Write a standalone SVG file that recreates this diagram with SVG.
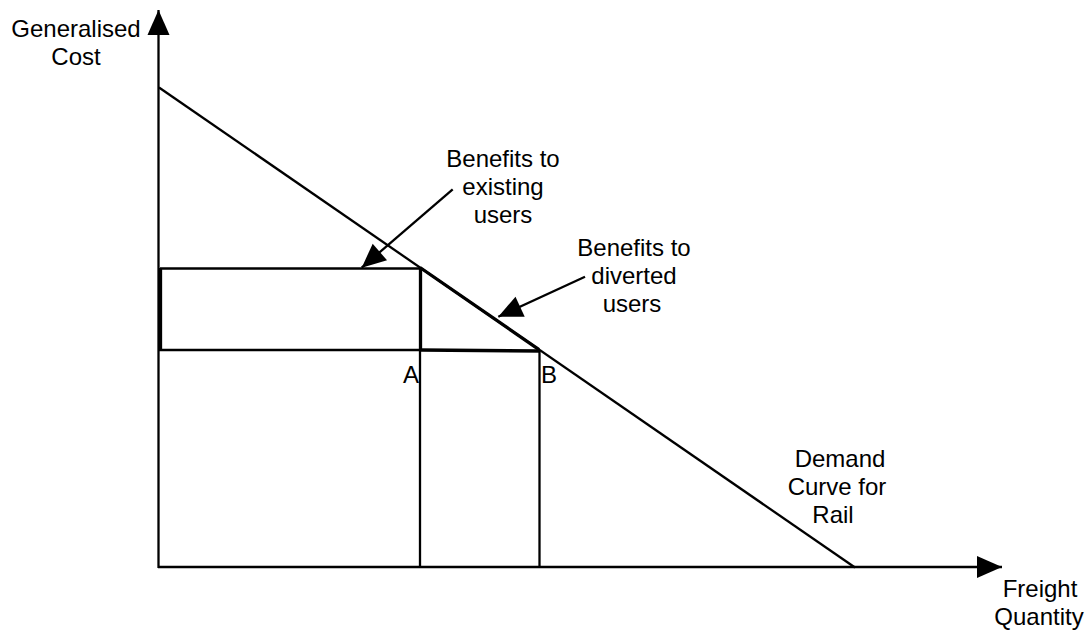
<svg xmlns="http://www.w3.org/2000/svg" width="1089" height="633" viewBox="0 0 1089 633">
  <style>
    .ln { stroke: #000; stroke-width: 2.3; fill: none; }
    .thick { stroke: #000; stroke-width: 3.3; fill: none; }
    .lbl { font-family: "Liberation Sans", Arial, sans-serif; font-size: 24px; fill: #000; text-anchor: middle; }
  </style>
  <defs>
    <marker id="axisHead" markerUnits="userSpaceOnUse" markerWidth="25" markerHeight="22" refX="25" refY="11" orient="auto" overflow="visible">
      <path d="M0,0 L25,11 L0,22 Z" fill="#000"/>
    </marker>
    <marker id="callHead" markerUnits="userSpaceOnUse" markerWidth="24" markerHeight="22" refX="24" refY="11" orient="auto" overflow="visible">
      <path d="M0,0 L24,11 L0,22 Z" fill="#000"/>
    </marker>
  </defs>
  <rect width="1089" height="633" fill="#fff"/>

  <g id="axes">
    <line class="ln" x1="158.5" y1="568" x2="158.5" y2="10" marker-end="url(#axisHead)"/>
    <line class="ln" x1="158" y1="567" x2="1002" y2="567" marker-end="url(#axisHead)"/>
  </g>

  <g id="demand-curve">
    <line class="ln" x1="159" y1="87.5" x2="855" y2="567.5"/>
  </g>

  <g id="existing-users-area">
    <line class="ln" x1="160" y1="268.5" x2="421" y2="268.5"/>
    <line class="thick" x1="160.5" y1="268" x2="160.5" y2="350"/>
    <line class="ln" x1="159" y1="350" x2="421" y2="350"/>
  </g>

  <g id="diverted-users-area">
    <line class="thick" x1="420.5" y1="268" x2="420.5" y2="350"/>
    <line class="thick" x1="420" y1="267.5" x2="539" y2="349.6"/>
    <line class="thick" x1="420" y1="350" x2="540" y2="351"/>
  </g>

  <g id="quantity-lines">
    <line class="ln" x1="420" y1="350" x2="420" y2="567"/>
    <line class="ln" x1="539.5" y1="350" x2="539.5" y2="567"/>
  </g>

  <g id="connectors">
    <line class="ln" x1="452.7" y1="189.3" x2="361.7" y2="267.7" marker-end="url(#callHead)"/>
    <line class="ln" x1="585" y1="276.7" x2="498.3" y2="316.7" marker-end="url(#callHead)"/>
  </g>

  <g id="label-y-axis">
    <text class="lbl" x="76" y="37">Generalised</text>
    <text class="lbl" x="76" y="65">Cost</text>
  </g>
  <g id="label-existing">
    <text class="lbl" x="503" y="167">Benefits to</text>
    <text class="lbl" x="503" y="195">existing</text>
    <text class="lbl" x="503" y="223">users</text>
  </g>
  <g id="label-diverted">
    <text class="lbl" x="634" y="256">Benefits to</text>
    <text class="lbl" x="634" y="284">diverted</text>
    <text class="lbl" x="632" y="312">users</text>
  </g>
  <g id="label-demand">
    <text class="lbl" x="840" y="467">Demand</text>
    <text class="lbl" x="837" y="495">Curve for</text>
    <text class="lbl" x="833" y="523">Rail</text>
  </g>
  <g id="label-x-axis">
    <text class="lbl" x="1040" y="597">Freight</text>
    <text class="lbl" x="1039" y="625">Quantity</text>
  </g>
  <g id="label-A">
    <text class="lbl" x="411" y="383">A</text>
  </g>
  <g id="label-B">
    <text class="lbl" x="549" y="383">B</text>
  </g>
</svg>
